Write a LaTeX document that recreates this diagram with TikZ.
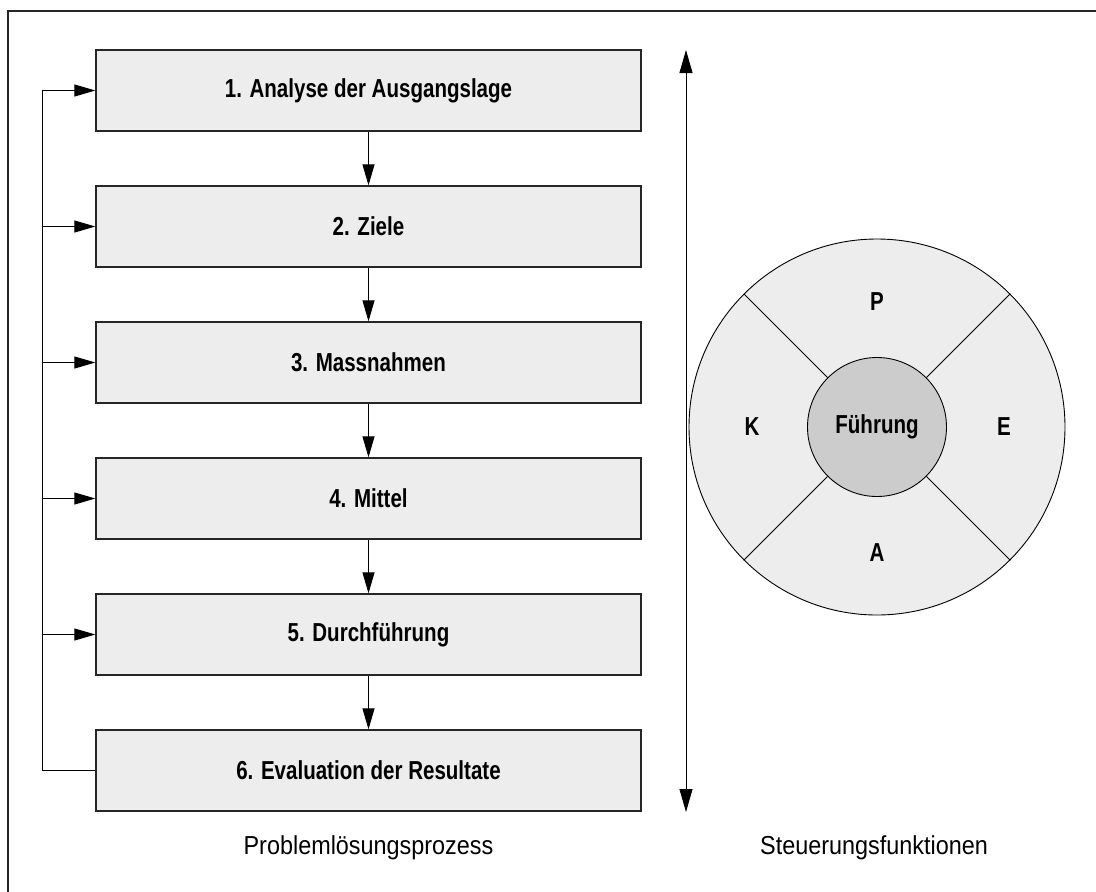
\documentclass[tikz,border=0pt]{standalone}
\usepackage{fontspec}
\setmainfont{Liberation Sans}[FakeStretch=0.79]
\newfontfamily\capfont{Liberation Sans}[FakeStretch=0.9]
\usepackage{tikz}
\usetikzlibrary{arrows.meta}

\tikzset{
  stepbox/.style={draw=black!85, line width=1.3pt, fill=black!7, minimum width=545pt,
    minimum height=81pt, inner sep=0pt, font=\fontsize{26}{30}\selectfont\bfseries},
  flow/.style={line width=0.9pt, -{Triangle[length=21pt,width=12pt]}},
  caption/.style={font=\capfont\fontsize{26}{30}\selectfont, inner sep=0pt},
  part/.style={font=\fontsize{26}{30}\selectfont\bfseries, inner sep=0pt}
}

\begin{document}
\begin{tikzpicture}[x=1pt, y=-1pt]

\useasboundingbox (0,0) rectangle (1096,892);
\draw[line width=1.6pt, black!85] (1096,11) -- (8,11) -- (8,892);

\node[stepbox] (s1) at (368.5,90.5) {1. Analyse der Ausgangslage};
\node[stepbox] (s2) at (368.5,226.5) {2. Ziele};
\node[stepbox] (s3) at (368.5,362.5) {3. Massnahmen};
\node[stepbox] (s4) at (368.5,498.5) {4. Mittel};
\node[stepbox] (s5) at (368.5,634.5) {5. Durchführung};
\node[stepbox] (s6) at (368.5,770.5) {6. Evaluation der Resultate};

\draw[flow] (s1) -- (s2);
\draw[flow] (s2) -- (s3);
\draw[flow] (s3) -- (s4);
\draw[flow] (s4) -- (s5);
\draw[flow] (s5) -- (s6);

\coordinate (back) at (42,770.5);
\draw[line width=0.9pt] (s6.west) -- (back) -- (back |- s1.west);
\draw[flow] (back |- s1.west) -- (s1.west);
\draw[flow] (back |- s2.west) -- (s2.west);
\draw[flow] (back |- s3.west) -- (s3.west);
\draw[flow] (back |- s4.west) -- (s4.west);
\draw[flow] (back |- s5.west) -- (s5.west);

\coordinate (top) at (686,50);
\coordinate (bottom) at (686,812);
\draw[line width=0.9pt, {Triangle[length=23pt,width=13pt]}-{Triangle[length=23pt,width=13pt]}] (top) -- (bottom);

\node[circle, draw, line width=0.9pt, fill=black!7, minimum size=376pt, inner sep=0pt] (ring) at (877,427) {};
\node[circle, draw, line width=0.9pt, fill=black!20, minimum size=139pt, inner sep=0pt, font=\fontsize{26}{30}\selectfont\bfseries] (core) at (877,427) {Führung};
\draw[line width=0.9pt] (core.45) -- (ring.45);
\draw[line width=0.9pt] (core.135) -- (ring.135);
\draw[line width=0.9pt] (core.225) -- (ring.225);
\draw[line width=0.9pt] (core.315) -- (ring.315);

\node[part] (p) at (877,302) {P};
\node[part] (k) at (752,427) {K};
\node[part] (e) at (1004,427) {E};
\node[part] (a) at (877,553) {A};

\node[caption] (prozess) at (368.5,848) {Problemlösungsprozess};
\node[caption] (funktion) at (874,848) {Steuerungsfunktionen};

\end{tikzpicture}
\end{document}
